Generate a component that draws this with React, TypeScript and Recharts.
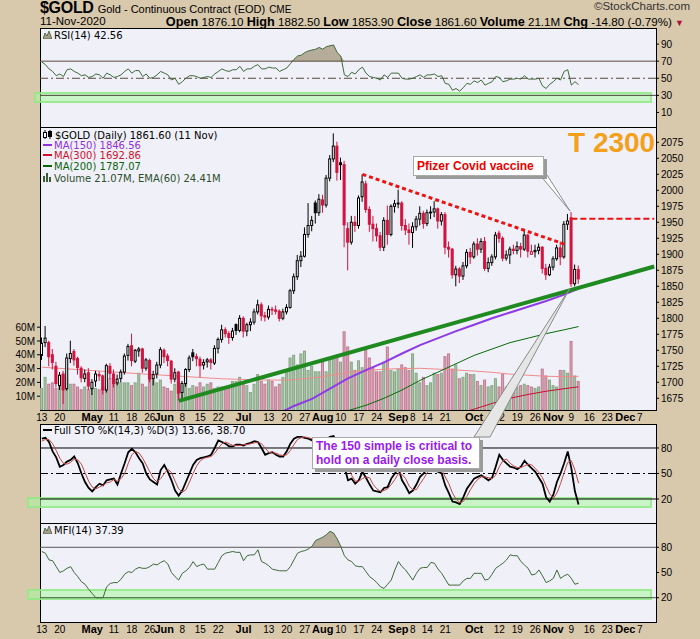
import React from 'react';
import { ComposedChart, Line, Bar, Area, XAxis, YAxis, ReferenceLine } from 'recharts';

// ---------------- data (one entry per trading day, 13 Apr 2020 .. 11 Nov 2020) ----------------
const open = [
  1742, 1762, 1762, 1743, 1725, 1695, 1712, 1690, 1737, 1748,
  1737, 1722, 1706, 1715, 1690, 1702, 1712, 1710, 1688, 1725,
  1713, 1699, 1706, 1716, 1742, 1757, 1733, 1749, 1752, 1722,
  1734, 1706, 1713, 1727, 1750, 1741, 1733, 1705, 1716, 1684,
  1698, 1720, 1746, 1740, 1736, 1727, 1732, 1735, 1730, 1753,
  1767, 1782, 1776, 1770, 1790, 1781, 1800, 1780, 1790, 1794,
  1810, 1821, 1804, 1802, 1814, 1813, 1811, 1800, 1810, 1817,
  1843, 1865, 1890, 1897, 1931, 1945, 1980, 1965, 1985, 1977,
  2019, 2049, 2069, 2043, 2040, 1940, 1919, 1950, 1945, 1990,
  2010, 1970, 1947, 1940, 1929, 1911, 1953, 1931, 1975, 1979,
  1980, 1945, 1938, 1934, 1943, 1955, 1964, 1948, 1965, 1966,
  1971, 1952, 1962, 1911, 1908, 1868, 1877, 1866, 1882, 1903,
  1896, 1916, 1908, 1920, 1878, 1887, 1896, 1933, 1925, 1894,
  1899, 1908, 1906, 1912, 1908, 1930, 1900, 1904, 1906, 1911,
  1878, 1868, 1880, 1893, 1910, 1896, 1947, 1957, 1854, 1876.1,
];
const high = [
  1770, 1788, 1765, 1752, 1732, 1716, 1718, 1745, 1765, 1752,
  1740, 1725, 1720, 1722, 1705, 1718, 1717, 1712, 1729, 1730,
  1720, 1712, 1720, 1745, 1760, 1776, 1752, 1755, 1754, 1738,
  1737, 1718, 1732, 1755, 1753, 1745, 1735, 1722, 1718, 1702,
  1722, 1742, 1752, 1745, 1740, 1736, 1738, 1738, 1758, 1770,
  1790, 1786, 1780, 1785, 1792, 1805, 1803, 1793, 1800, 1815,
  1829, 1825, 1810, 1820, 1818, 1820, 1814, 1815, 1822, 1846,
  1870, 1899, 1905, 1942, 1980, 1960, 1984, 1994, 1993, 2024,
  2055, 2089, 2076, 2051, 2046, 1950, 1960, 1960, 1992, 2025,
  2015, 1975, 1960, 1948, 1935, 1958, 1976, 1978, 1985, 2001,
  1983, 1955, 1948, 1950, 1960, 1975, 1968, 1970, 1975, 1983,
  1973, 1966, 1966, 1920, 1910, 1882, 1880, 1888, 1908, 1910,
  1920, 1925, 1925, 1927, 1895, 1900, 1935, 1937, 1928, 1906,
  1912, 1915, 1920, 1918, 1937, 1932, 1915, 1915, 1917, 1913,
  1885, 1885, 1897, 1915, 1920, 1952, 1963, 1966, 1884, 1882.5,
];
const low = [
  1735, 1755, 1725, 1720, 1692, 1688, 1666, 1687, 1730, 1726,
  1712, 1700, 1700, 1688, 1680, 1693, 1702, 1681, 1684, 1705,
  1692, 1695, 1700, 1712, 1734, 1725, 1730, 1740, 1715, 1718,
  1700, 1695, 1706, 1722, 1730, 1725, 1698, 1700, 1672, 1675,
  1693, 1716, 1733, 1725, 1708, 1720, 1723, 1720, 1727, 1745,
  1762, 1770, 1760, 1765, 1774, 1778, 1770, 1772, 1780, 1790,
  1806, 1796, 1795, 1798, 1805, 1806, 1795, 1797, 1806, 1815,
  1838, 1860, 1880, 1895, 1926, 1936, 1948, 1960, 1965, 1973,
  2014, 2044, 2015, 2016, 1911, 1875, 1915, 1935, 1940, 1982,
  1965, 1935, 1920, 1920, 1905, 1905, 1915, 1928, 1965, 1972,
  1937, 1930, 1915, 1910, 1937, 1945, 1940, 1944, 1955, 1958,
  1940, 1945, 1900, 1895, 1862, 1850, 1855, 1860, 1878, 1885,
  1893, 1898, 1902, 1874, 1872, 1882, 1892, 1918, 1889, 1890,
  1885, 1900, 1900, 1895, 1905, 1895, 1900, 1895, 1900, 1870,
  1860, 1866, 1875, 1890, 1883, 1893, 1938, 1849, 1850, 1853.9,
];
const close = [
  1761, 1769, 1740, 1731, 1698, 1711, 1688, 1738, 1745, 1735,
  1723, 1707, 1713, 1694, 1700, 1713, 1710, 1688, 1726, 1714,
  1698, 1705, 1716, 1741, 1756, 1734, 1750, 1752, 1722, 1735,
  1705, 1712, 1727, 1751, 1740, 1734, 1705, 1715, 1683, 1698,
  1720, 1738, 1740, 1737, 1726, 1731, 1735, 1731, 1753, 1767,
  1782, 1776, 1770, 1780, 1781, 1800, 1780, 1790, 1794, 1810,
  1821, 1804, 1802, 1814, 1813, 1811, 1800, 1810, 1817, 1843,
  1865, 1890, 1897, 1931, 1945, 1953, 1965, 1986, 1977, 2019,
  2049, 2069, 2028, 2040, 1946, 1919, 1950, 1945, 1988, 2013,
  1970, 1947, 1940, 1929, 1911, 1953, 1931, 1975, 1979, 1980,
  1945, 1938, 1934, 1943, 1955, 1964, 1948, 1965, 1966, 1971,
  1952, 1962, 1911, 1908, 1868, 1877, 1866, 1882, 1903, 1896,
  1916, 1908, 1920, 1878, 1887, 1896, 1930, 1925, 1894, 1899,
  1908, 1906, 1912, 1908, 1930, 1905, 1904, 1906, 1911, 1878,
  1868, 1880, 1893, 1910, 1896, 1947, 1952, 1854, 1876.4, 1861.6,
];
// volume in millions
const volume = [
  16, 24, 19, 20, 16, 19, 27, 24, 19, 19,
  17, 15, 17, 15, 17, 16, 15, 17, 17, 23,
  23, 20, 20, 20, 20, 18, 20, 27, 19, 17,
  23, 23, 20, 22, 17, 16, 14, 19, 21, 18,
  20, 16, 18, 17, 20, 17, 19, 20, 16, 17,
  17, 16, 18, 21, 21, 24, 20, 18, 13, 19,
  26, 21, 19, 22, 21, 17, 19, 24, 29, 38,
  40, 33, 41, 43, 29, 32, 28, 28, 35, 28,
  38, 37, 40, 35, 57, 46, 35, 29, 36, 31,
  44, 38, 31, 28, 28, 35, 46, 29, 28, 30,
  33, 31, 29, 41, 27, 20, 24, 18, 20, 27,
  26, 27, 39, 41, 30, 33, 23, 24, 27, 26,
  26, 21, 18, 22, 17, 18, 23, 17, 26, 17,
  14, 16, 17, 18, 19, 18, 17, 16, 17, 30,
  25, 22, 18, 17, 29, 29, 27, 50, 25, 21.07,
];
const rsi = [
  69, 66, 61, 58, 53, 55, 52, 60, 61, 58,
  56, 53, 54, 51, 52, 55, 54, 50, 56, 54,
  51, 52, 54, 58, 61, 56, 59, 59, 52, 55,
  50, 51, 54, 58, 56, 54, 48, 50, 43, 46,
  50, 53, 53, 52, 50, 51, 52, 51, 55, 58,
  61, 59, 58, 60, 60, 64, 58, 61, 61, 64,
  66, 61, 61, 63, 62, 62, 58, 60, 62, 67,
  72, 76, 77, 80, 82, 83, 84, 86, 84, 87,
  88, 89, 80, 76, 54, 52, 57, 55, 60, 63,
  56, 52, 51, 50, 48, 54, 51, 56, 56, 56,
  50, 49, 49, 50, 52, 54, 51, 54, 54, 55,
  52, 53, 44, 43, 36, 38, 35, 39, 44, 43,
  47, 45, 48, 42, 44, 46, 52, 51, 46, 47,
  49, 49, 50, 49, 53, 49, 49, 49, 50, 41,
  38, 43, 46, 50, 48, 58, 60, 42, 46, 42.56,
];
const mfi = [
  75, 73, 65, 64, 57, 50, 52, 55, 57, 50,
  45, 39, 36, 30, 25, 20, 20, 20, 33, 37,
  38, 38, 42, 48, 51, 50, 54, 56, 55, 55,
  57, 60, 59, 62, 64, 60, 50, 45, 41, 49,
  52, 56, 63, 57, 59, 60, 54, 54, 54, 62,
  70, 73, 74, 75, 74, 74, 64, 70, 71, 71,
  77, 63, 61, 58, 54, 53, 52, 52, 52, 57,
  65, 73, 75, 76, 78, 81, 88, 90, 92, 95,
  99, 97, 90, 81, 70, 65, 63, 58, 57, 57,
  51, 45, 42, 38, 33, 31, 36, 41, 53, 63,
  57, 53, 47, 41, 49, 55, 56, 56, 62, 61,
  54, 49, 42, 35, 35, 35, 35, 40, 43, 43,
  49, 49, 49, 41, 42, 48, 55, 58, 61, 65,
  71, 70, 70, 63, 59, 55, 47, 48, 53, 46,
  38, 40, 43, 53, 43, 46, 48, 43, 36, 37.39,
];
const stoK = [
  91, 92, 87, 76, 69, 58, 60, 64, 66, 70,
  62, 50, 40, 33, 29, 34, 38, 36, 42, 43,
  44, 37, 50, 62, 75, 79, 75, 68, 62, 50,
  43, 40, 37, 54, 60, 52, 42, 30, 24, 30,
  40, 50, 60, 66, 68, 69, 70, 72, 80, 89,
  87, 85, 82, 82, 84, 84, 83, 85, 86, 88,
  87, 80, 72, 74, 75, 72, 70, 70, 76, 85,
  91, 93, 93, 92, 91, 89, 88, 87, 85, 90,
  93, 94, 84, 80, 58, 42, 44, 38, 42, 52,
  45, 37, 30, 29, 28, 33, 34, 44, 50, 56,
  42, 35, 27, 30, 37, 46, 50, 56, 58, 60,
  52, 50, 36, 27, 17, 16, 14, 22, 32, 38,
  44, 46, 48, 45, 42, 45, 58, 72, 66, 62,
  58, 57, 55, 58, 65, 60, 56, 52, 45, 38,
  22, 17, 25, 40, 50, 62, 76, 56, 29, 13.66,
];
const stoD = [
  88, 90, 90, 85, 77, 68, 62, 61, 63, 67,
  66, 61, 51, 41, 34, 32, 34, 36, 39, 40,
  43, 41, 44, 50, 62, 72, 76, 74, 68, 60,
  52, 44, 40, 44, 50, 55, 51, 41, 32, 28,
  31, 40, 50, 59, 65, 68, 69, 70, 74, 80,
  85, 87, 85, 83, 83, 83, 84, 84, 85, 86,
  87, 85, 80, 75, 74, 74, 72, 71, 72, 77,
  84, 90, 92, 93, 92, 91, 89, 88, 87, 87,
  89, 92, 90, 86, 74, 60, 48, 41, 41, 44,
  46, 45, 37, 32, 29, 30, 32, 37, 43, 50,
  49, 44, 35, 31, 31, 38, 44, 51, 55, 58,
  57, 54, 46, 38, 27, 20, 16, 17, 23, 31,
  38, 43, 46, 46, 45, 44, 48, 58, 65, 67,
  62, 59, 57, 57, 59, 61, 60, 56, 51, 45,
  35, 26, 21, 27, 38, 51, 63, 65, 54, 38.7,
];
// moving averages read at sampled days
const ma150Day = [66, 70, 75, 80, 85, 90, 95, 100, 105, 110, 115, 120, 125, 130, 135, 140, 145, 149];
const ma150Val = [1652, 1663, 1674, 1690, 1706, 1719, 1731, 1745, 1758, 1769, 1780, 1790, 1800, 1809, 1818, 1827, 1837, 1846.56];
const ma200Day = [84, 90, 95, 100, 105, 110, 115, 120, 125, 130, 135, 140, 145, 149];
const ma200Val = [1654, 1664, 1675, 1688, 1703, 1716, 1729, 1742, 1752, 1762, 1769, 1776, 1782, 1787.07];
const ma300Day = [117, 120, 125, 130, 135, 140, 145, 149];
const ma300Val = [1653, 1658, 1667, 1675, 1681, 1686, 1690, 1692.86];
const emaDay = [0, 10, 20, 30, 40, 50, 60, 68, 75, 80, 85, 90, 95, 100, 105, 110, 115, 120, 125, 130, 135, 140, 145, 149];
const emaVal = [31, 29.3, 27.5, 25.8, 24.2, 22.6, 21.8, 21.6, 23.2, 25, 27.2, 28.6, 29.6, 30, 30.2, 29.6, 29, 28.2, 27.3, 26, 25.2, 24.4, 24.2, 24.41];

// date axis ticks (trading-day index -> label)
const tickDays = [0, 5, 14, 20, 25, 30, 34, 39, 44, 49, 56, 63, 68, 73, 78, 83, 88, 93, 99, 103, 107, 112, 120, 127, 132, 137, 142, 147, 152, 157, 162, 166];
const tickLabels = ['13', '20', 'May', '11', '18', '26', 'Jun', '8', '15', '22', 'Jul', '13', '20', '27', 'Aug', '10', '17', '24', 'Sep', '8', '14', '21', 'Oct', '12', '19', '26', 'Nov', '9', '16', '23', 'Dec', '7'];

const priceTicks = [1675, 1700, 1725, 1750, 1775, 1800, 1825, 1850, 1875, 1900, 1925, 1950, 1975, 2000, 2025, 2050, 2075];
const volTicks = [10, 20, 30, 40, 50, 60];
const rsiTicks = [10, 30, 50, 70, 90];
const oscTicks = [20, 50, 80];

// annotations in data coordinates (day index, price)
const greenTrend = [{ x: 38, y: 1671 }, { x: 170, y: 1881 }];
const redTrend = [{ x: 89, y: 2025 }, { x: 145, y: 1916 }];
const pfizerLevel = [{ x: 147, y: 1955.6 }, { x: 170, y: 1955.6 }];

const SLOTS = 171;

// ---------------- table ----------------
const rows: any[] = [];
for (let i = 0; i < SLOTS; i++) {
  const r: any = { i };
  if (i < close.length) {
    r.o = open[i];
    r.h = high[i];
    r.l = low[i];
    r.c = close[i];
    r.prev = i > 0 ? close[i - 1] : null;
    r.range = [low[i], high[i]];
    r.vol = volume[i];
    r.up = i === 0 || close[i] >= close[i - 1];
    r.rsi = rsi[i];
    r.rsiHi = Math.max(rsi[i], 70);
    r.mfi = mfi[i];
    r.mfiHi = Math.max(mfi[i], 80);
    r.k = stoK[i];
    r.d = stoD[i];
  }
  rows.push(r);
}
ma150Day.forEach((d, j) => { rows[d].ma150 = ma150Val[j]; });
ma200Day.forEach((d, j) => { rows[d].ma200 = ma200Val[j]; });
ma300Day.forEach((d, j) => { rows[d].ma300 = ma300Val[j]; });
emaDay.forEach((d, j) => { rows[d].ema = emaVal[j]; });

// ---------------- styling ----------------
const AX_FONT = "'Liberation Sans', Arial, sans-serif";
const LEG_FONT = "'DejaVu Sans', Verdana, sans-serif";
const BG = '#d8c8ac';
const PLOT_BG = '#eff0f8';
const RED = '#d3123d';

const Candle = (props: any) => {
  const { x, y, width, height, payload } = props;
  if (!payload || payload.o == null) return null;
  const { o, h, l, c, prev } = payload;
  const yy = height < 0 ? y + height : y;
  const hh = Math.abs(height);
  const span = h - l || 1;
  const py = (v: number) => yy + ((h - v) / span) * hh;
  const red = prev != null && c < prev;
  const color = red ? RED : '#000';
  const hollow = c >= o;
  const cx = x + width / 2;
  const top = py(Math.max(o, c));
  const bot = py(Math.min(o, c));
  return (
    <g>
      <line x1={cx} x2={cx} y1={yy} y2={yy + hh} stroke={color} strokeWidth={1} />
      <rect x={x + 0.5} y={top} width={Math.max(width - 1, 1)} height={Math.max(bot - top, 0.8)}
        fill={hollow ? '#ffffff' : color} stroke={color} strokeWidth={1} />
    </g>
  );
};

const VolBar = (props: any) => {
  const { x, y, width, height, payload } = props;
  if (!payload || payload.vol == null || !(height > 0)) return null;
  const up = payload.up;
  return (
    <rect x={x + 0.5} y={y + 0.5} width={Math.max(width - 1, 1)} height={Math.max(height - 0.5, 0)}
      fill={up ? '#a9c3a4' : '#d9a5b5'} stroke={up ? '#88a886' : '#c27b92'} strokeWidth={1} />
  );
};

const DateTick = (props: any) => {
  const { x, y, payload } = props;
  const k = tickDays.indexOf(payload.value);
  if (k < 0) return null;
  const lab = tickLabels[k];
  const month = /[A-Za-z]/.test(lab);
  return (
    <text x={x} y={y + 11} textAnchor="middle" fontFamily={AX_FONT}
      fontSize={month ? 11 : 10} fontWeight={month ? 'bold' : 'normal'} fill="#000">{lab}</text>
  );
};

const rightTick = { fontSize: 10, fill: '#000', fontFamily: AX_FONT };

const panel = (top: number, h: number): React.CSSProperties => ({
  position: 'absolute', left: 40, top, width: 617, height: h, boxSizing: 'border-box',
  border: '1px solid #000', background: PLOT_BG,
});
const band = (left: number, top: number, width: number): React.CSSProperties => ({
  position: 'absolute', left, top, width, height: 11, boxSizing: 'border-box',
  background: 'rgba(170,248,160,0.55)', border: '2px solid rgba(140,232,130,0.75)',
});
const abs = (left: number, top: number): React.CSSProperties => ({ position: 'absolute', left, top });

const Dash = ({ color }: { color: string }) => (
  <span style={{ display: 'inline-block', width: 9, height: 2, background: color, verticalAlign: 'middle', marginRight: 2, marginBottom: 2 }} />
);
const MountainIcon = () => (
  <svg width="9" height="9" style={{ verticalAlign: 'middle', marginRight: 2, marginBottom: 2 }}>
    <polygon points="0,9 2,3 4,6 6,1 9,9" fill="#a89c88" stroke="#3c5c38" strokeWidth="0.8" />
  </svg>
);
const CandleIcon = () => (
  <svg width="10" height="9" style={{ verticalAlign: 'middle', marginRight: 2, marginBottom: 2 }}>
    <line x1="2" y1="0" x2="2" y2="9" stroke="#000" />
    <rect x="0.5" y="2.5" width="3" height="5" fill="#fff" stroke="#000" />
    <line x1="7" y1="0" x2="7" y2="9" stroke="#000" />
    <rect x="5.5" y="1.5" width="3" height="5" fill="#000" stroke="#000" />
  </svg>
);
const VolIcon = () => (
  <svg width="10" height="9" style={{ verticalAlign: 'middle', marginRight: 1, marginBottom: 2 }}>
    <rect x="0" y="3" width="2" height="6" fill="#3c5c38" />
    <rect x="3" y="0" width="2" height="9" fill="#3c5c38" />
    <rect x="6" y="4" width="2" height="5" fill="#3c5c38" />
  </svg>
);

const legendText: React.CSSProperties = { fontFamily: LEG_FONT, fontSize: 10, lineHeight: '10.7px', whiteSpace: 'nowrap' };
const hdrLab: React.CSSProperties = { fontSize: 12.7, fontWeight: 'bold' };

export default function App() {
  return (
    <div style={{ position: 'absolute', left: 0, top: 0, width: 700, height: 639, background: BG, overflow: 'hidden', fontFamily: AX_FONT, color: '#000' }}>
      {/* header */}
      <div style={{ ...abs(40, 0), whiteSpace: 'nowrap', lineHeight: '15px', height: 15 }}>
        <span style={{ fontSize: 16, fontWeight: 'bold', fontFamily: "'Liberation Sans Narrow','Liberation Sans',Arial", letterSpacing: -0.3 }}>$GOLD</span>
        <span style={{ fontSize: 11, marginLeft: 4 }}>Gold - Continuous Contract (EOD)</span>
        <span style={{ fontSize: 10, marginLeft: 4 }}>CME</span>
      </div>
      <div style={{ position: 'absolute', right: 10, top: 0, fontSize: 11.5, color: '#333', lineHeight: '13px', height: 13 }}>©StockCharts.com</div>
      <div style={{ ...abs(40, 15), fontSize: 11.5, lineHeight: '13px' }}>11-Nov-2020</div>
      <div style={{ position: 'absolute', right: 16, top: 15, fontSize: 11.6, lineHeight: '13px', whiteSpace: 'nowrap' }}>
        <span style={hdrLab}>Open</span> 1876.10 <span style={hdrLab}>High</span> 1882.50 <span style={hdrLab}>Low</span> 1853.90 <span style={hdrLab}>Close</span> 1861.60 <span style={hdrLab}>Volume</span> 21.1M <span style={hdrLab}>Chg</span> -14.80 (-0.79%) <span style={{ color: '#b0103a', fontSize: 9 }}>▼</span>
      </div>

      {/* panel backgrounds */}
      <div style={panel(28, 100)} />
      <div style={panel(127, 284)} />
      <div style={panel(424, 100)} />
      <div style={panel(523, 100)} />

      {/* highlight bands */}
      <div style={band(34, 92, 618)} />
      <div style={band(27, 497, 625)} />
      <div style={band(27, 589, 625)} />

      {/* RSI panel */}
      <div style={abs(0, 28)}>
        <ComposedChart width={700} height={99} data={rows} margin={{ top: 0, right: 0, bottom: 0, left: 40 }}>
          <XAxis dataKey="i" scale="band" hide />
          <YAxis orientation="right" width={44} domain={[-7, 108.8]} ticks={rsiTicks} allowDataOverflow
            axisLine={false} tickLine={{ stroke: '#000' }} tickSize={3} tickMargin={2} tick={rightTick} interval={0} />
          <ReferenceLine y={70} stroke="#5a4a3c" strokeWidth={1} />
          <ReferenceLine y={50} stroke="#5a4a3c" strokeWidth={1} strokeDasharray="8 3 2 3" />
          <ReferenceLine y={30} stroke="#4a4a3a" strokeWidth={1} />
          <Area dataKey="rsiHi" baseValue={70} stroke="none" fill="#b6ac9a" fillOpacity={1} isAnimationActive={false} />
          <Line dataKey="rsi" stroke="#40683a" strokeWidth={1} dot={false} isAnimationActive={false} />
        </ComposedChart>
      </div>
      <div style={{ ...abs(43, 30), ...legendText }}><MountainIcon />RSI(14) 42.56</div>

      {/* volume layer */}
      <div style={abs(0, 127)}>
        <ComposedChart width={700} height={283} data={rows} margin={{ top: 0, right: 44, bottom: 0, left: 0 }}>
          <XAxis dataKey="i" scale="band" hide />
          <YAxis yAxisId="v" orientation="left" width={40} domain={[0, 205]} ticks={volTicks} interval={0}
            tickFormatter={(v: number) => `${v}M`} axisLine={false} tickLine={{ stroke: '#000' }} tickSize={3} tickMargin={2} tick={rightTick} />
          <Bar yAxisId="v" dataKey="vol" barSize={3} shape={<VolBar />} isAnimationActive={false} />
          <Line yAxisId="v" dataKey="ema" stroke="#f08c8c" strokeWidth={1} dot={false} connectNulls isAnimationActive={false} />
        </ComposedChart>
      </div>

      {/* price layer */}
      <div style={abs(0, 127)}>
        <ComposedChart width={700} height={297} data={rows} margin={{ top: 0, right: 0, bottom: 0, left: 40 }}>
          <XAxis dataKey="i" scale="band" ticks={tickDays} interval={0} tick={<DateTick />} tickLine={false} axisLine={false} height={14} tickSize={0} tickMargin={0} />
          <YAxis yAxisId="p" orientation="right" width={44} domain={[1656.7, 2098.9]} ticks={priceTicks} allowDataOverflow interval={0}
            axisLine={false} tickLine={{ stroke: '#000' }} tickSize={3} tickMargin={2} tick={rightTick} />
          <Line yAxisId="p" dataKey="ma300" stroke="#c8102e" strokeWidth={1} dot={false} connectNulls isAnimationActive={false} />
          <Line yAxisId="p" dataKey="ma200" stroke="#0b6b0b" strokeWidth={1} dot={false} connectNulls isAnimationActive={false} />
          <Line yAxisId="p" dataKey="ma150" stroke="#8e3ae6" strokeWidth={2} dot={false} connectNulls isAnimationActive={false} />
          <Bar yAxisId="p" dataKey="range" barSize={3} shape={<Candle />} isAnimationActive={false} />
          <ReferenceLine yAxisId="p" segment={greenTrend} stroke="#1f8a1f" strokeWidth={4} ifOverflow="visible" />
          <ReferenceLine yAxisId="p" segment={redTrend} stroke="#ee1111" strokeWidth={3} strokeDasharray="4 3" ifOverflow="visible" />
          <ReferenceLine yAxisId="p" segment={pfizerLevel} stroke="#ee1111" strokeWidth={2} strokeDasharray="6 3" ifOverflow="visible" />
        </ComposedChart>
      </div>
      <div style={{ ...abs(43, 129.5), ...legendText }}>
        <div><CandleIcon />$GOLD (Daily) 1861.60 (11 Nov)</div>
        <div style={{ color: '#9030e0' }}><Dash color="#9030e0" />MA(150) 1846.56</div>
        <div style={{ color: '#d0102e' }}><Dash color="#d0102e" />MA(300) 1692.86</div>
        <div style={{ color: '#0b640b' }}><Dash color="#0b640b" />MA(200) 1787.07</div>
        <div style={{ color: '#2e4e2a' }}><VolIcon />Volume 21.07M, EMA(60) 24.41M</div>
      </div>

      {/* STO panel */}
      <div style={abs(0, 424)}>
        <ComposedChart width={700} height={99} data={rows} margin={{ top: 0, right: 0, bottom: 0, left: 40 }}>
          <XAxis dataKey="i" scale="band" hide />
          <YAxis orientation="right" width={44} domain={[-8.2, 108.2]} ticks={oscTicks} allowDataOverflow interval={0}
            axisLine={false} tickLine={{ stroke: '#000' }} tickSize={3} tickMargin={2} tick={rightTick} />
          <ReferenceLine y={80} stroke="#000" strokeWidth={1} />
          <ReferenceLine y={50} stroke="#000" strokeWidth={1} strokeDasharray="8 3 2 3" />
          <ReferenceLine y={20} stroke="#000" strokeWidth={1} />
          <Line dataKey="k" stroke="#000" strokeWidth={1.8} dot={false} isAnimationActive={false} />
          <Line dataKey="d" stroke="#c24848" strokeWidth={1} dot={false} isAnimationActive={false} />
        </ComposedChart>
      </div>
      <div style={{ ...abs(43, 426), ...legendText }}><Dash color="#000" />Full STO %K(14,3) %D(3) 13.66, 38.70</div>

      {/* MFI panel */}
      <div style={abs(0, 523)}>
        <ComposedChart width={700} height={113} data={rows} margin={{ top: 0, right: 0, bottom: 0, left: 40 }}>
          <XAxis dataKey="i" scale="band" ticks={tickDays} interval={0} tick={<DateTick />} tickLine={false} axisLine={false} height={14} tickSize={0} tickMargin={0} />
          <YAxis orientation="right" width={44} domain={[-8.9, 108.9]} ticks={oscTicks} allowDataOverflow interval={0}
            axisLine={false} tickLine={{ stroke: '#000' }} tickSize={3} tickMargin={2} tick={rightTick} />
          <ReferenceLine y={80} stroke="#5a5a5a" strokeWidth={1} />
          <ReferenceLine y={20} stroke="#3e5e3a" strokeWidth={1} />
          <Area dataKey="mfiHi" baseValue={80} stroke="none" fill="#b6ac9a" fillOpacity={1} isAnimationActive={false} />
          <Line dataKey="mfi" stroke="#40683a" strokeWidth={1} dot={false} isAnimationActive={false} />
        </ComposedChart>
      </div>
      <div style={{ ...abs(43, 525), ...legendText }}><MountainIcon />MFI(14) 37.39</div>

      {/* annotations */}
      <svg width={700} height={639} style={{ position: 'absolute', left: 0, top: 0, pointerEvents: 'none' }}>
        <polygon points="540,175 547,175 570,211" fill="#ffffff" stroke="#8a8a8a" strokeWidth={1} />
        <polygon points="474,437 490,437 570,288" fill="#e6e6e6" stroke="#8a8a8a" strokeWidth={1} />
      </svg>
      <div style={{ position: 'absolute', left: 568, top: 129, fontSize: 28, fontWeight: 'bold', color: '#f5a01a', lineHeight: '28px', fontFamily: AX_FONT }}>T 2300</div>
      <div style={{ position: 'absolute', left: 413, top: 156, width: 131, height: 20, boxSizing: 'border-box', background: '#fff', border: '1px solid #aaa', boxShadow: '3px 3px 0 #9a9a9a', color: '#ee0000', fontWeight: 'bold', fontSize: 12, lineHeight: '18px', paddingLeft: 3, whiteSpace: 'nowrap' }}>Pfizer Covid vaccine</div>
      <div style={{ position: 'absolute', left: 312, top: 437, width: 168, height: 32, boxSizing: 'border-box', background: '#fff', border: '1px solid #aaa', boxShadow: '3px 3px 0 #9a9a9a', color: '#9a1af0', fontWeight: 'bold', fontSize: 12, lineHeight: '14px', padding: '1px 3px', whiteSpace: 'nowrap' }}>
        The 150 simple is critical to<br />hold on a daily close basis.
      </div>
    </div>
  );
}
